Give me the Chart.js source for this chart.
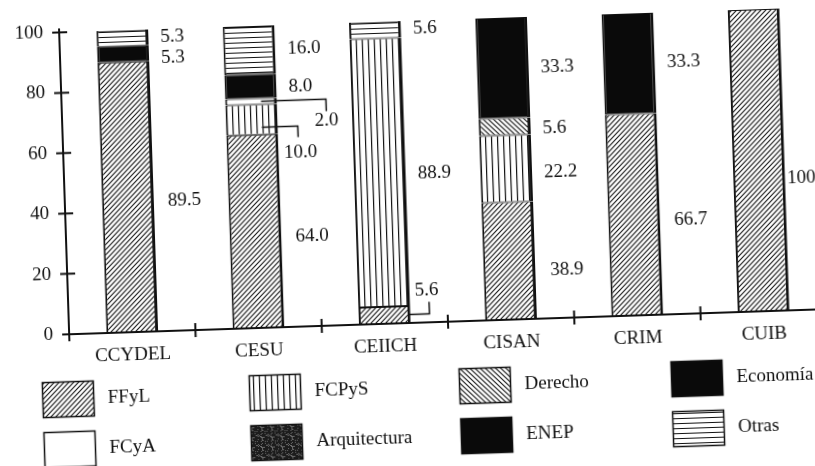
<!DOCTYPE html>
<html>
<head>
<meta charset="utf-8">
<script src="https://cdn.jsdelivr.net/npm/chart.js@4.4.0/dist/chart.umd.min.js"></script>
<style>
  html, body { margin: 0; padding: 0; background: #fff; overflow: hidden; }
  /* the scanned original is slightly tilted */
  #wrap { position: absolute; left: 0; top: 0; width: 840px; height: 466px;
          transform: rotate(-1.9deg); transform-origin: 407.5px 233px; }
</style>
</head>
<body>
<div id="wrap"><canvas id="chart" width="840" height="466"></canvas></div>
<script>
// Data (percent per centre)
const categories = ['CCYDEL', 'CESU', 'CEIICH', 'CISAN', 'CRIM', 'CUIB'];
const ffyl         = [89.5, 64.0, 5.6, 38.9, 66.7, 100];
const fcpys        = [null, 10.0, 88.9, 22.2, null, null];
const fcya         = [null, 2.0, null, null, null, null];
const derecho      = [null, null, null, 5.6, null, null];
const arquitectura = [null, null, null, null, null, null];
const enep         = [5.3, 8.0, null, null, null, null];
const economia     = [null, null, null, 33.3, 33.3, null];
const otras        = [5.3, 16.0, 5.6, null, null, null];
const yTicks = [0, 20, 40, 60, 80, 100];

const INK = '#111';
const FONT_FAMILY = "'Liberation Serif', 'Times New Roman', serif";
const FONT = '19px ' + FONT_FAMILY;

// Hatch patterns
function makePattern(w, h, draw) {
    const c = document.createElement('canvas');
    c.width = w; c.height = h;
    const g = c.getContext('2d');
    g.fillStyle = '#fff';
    g.fillRect(0, 0, w, h);
    g.strokeStyle = INK;
    g.fillStyle = INK;
    draw(g, w, h);
    return c.getContext('2d').createPattern(c, 'repeat');
}

const fills = {
    'FFyL': makePattern(5, 5, (g) => {
        g.lineWidth = 1.1;
        g.beginPath();
        g.moveTo(-1, 6); g.lineTo(6, -1);
        g.moveTo(-1, 1); g.lineTo(1, -1);
        g.moveTo(4, 6); g.lineTo(6, 4);
        g.stroke();
    }),
    'FCPyS': makePattern(6, 1, (g) => { g.fillRect(2, 0, 1.2, 1); }),
    'FCyA': '#ffffff',
    'Derecho': makePattern(5, 5, (g) => {
        g.lineWidth = 1.1;
        g.beginPath();
        g.moveTo(-1, -1); g.lineTo(6, 6);
        g.moveTo(4, -1); g.lineTo(6, 1);
        g.moveTo(-1, 4); g.lineTo(1, 6);
        g.stroke();
    }),
    'Arquitectura': makePattern(10, 10, (g) => {
        g.fillStyle = '#1c1c1c';
        g.fillRect(0, 0, 10, 10);
        g.fillStyle = '#6a6a6a';
        let s = 7;
        for (let k = 0; k < 22; k++) {
            s = (s * 37 + 11) % 101;
            g.fillRect(s % 10, Math.floor(s / 10) % 10, 1, 1);
        }
    }),
    'ENEP': '#0a0a0a',
    'Economía': '#0a0a0a',
    'Otras': makePattern(1, 5, (g) => { g.fillRect(0, 2, 1, 1); })
};

const seriesNames = ['FFyL', 'FCPyS', 'FCyA', 'Derecho', 'Arquitectura', 'ENEP', 'Economía', 'Otras'];
const seriesValues = [ffyl, fcpys, fcya, derecho, arquitectura, enep, economia, otras];

const legendRows = [
    ['FFyL', 'FCPyS', 'Derecho', 'Economía'],
    ['FCyA', 'Arquitectura', 'ENEP', 'Otras']
];

// small label shifts (px) where the original sets them off the segment centre
const nudges = {
    'CCYDEL|ENEP': [0, 5],
    'CCYDEL|FFyL': [2, 5],
    'CESU|ENEP': [0, 2],
    'CESU|FFyL': [2, 7],
    'CEIICH|FCPyS': [0, 2],
    'CISAN|Economía': [0, 1],
    'CISAN|Derecho': [0, 3],
    'CISAN|FCPyS': [0, 5],
    'CISAN|FFyL': [3, 11],
    'CRIM|FFyL': [2, 7],
    'CUIB|FFyL': [-10, 19]
};

// labels joined to thin segments by an elbow line
const leaders = {
    'CESU|FCyA':   { sx: 10,  ly: 0,  ex: 49, ey: 12,  tx: 49, ty: 22 },
    'CESU|FCPyS':  { sx: 10,  ly: 8,  ex: 20, ey: 19,  tx: 22, ty: 34 },
    'CEIICH|FFyL': { sx: null, ly: 0, ex: 19, ey: -12, tx: 17, ty: -24 }
};

const valueLabels = {
    id: 'valueLabels',
    afterDatasetsDraw(chart) {
        const ctx = chart.ctx;
        ctx.save();
        ctx.font = FONT;
        ctx.fillStyle = INK;
        ctx.strokeStyle = INK;
        ctx.lineWidth = 1.5;
        ctx.textBaseline = 'middle';
        chart.data.datasets.forEach((ds, i) => {
            const meta = chart.getDatasetMeta(i);
            ds.data.forEach((v, j) => {
                if (v == null) return;
                const el = meta.data[j];
                const right = el.x + el.width / 2;
                const yc = (el.y + el.base) / 2;
                const key = categories[j] + '|' + ds.label;
                const txt = v === 100 ? '100' : v.toFixed(1);
                const lead = leaders[key];
                if (lead) {
                    const sx = lead.sx === null ? right - 2 : el.x + lead.sx;
                    ctx.beginPath();
                    ctx.moveTo(sx, yc + lead.ly);
                    ctx.lineTo(right + lead.ex, yc + lead.ly);
                    ctx.lineTo(right + lead.ex, yc + lead.ey);
                    ctx.stroke();
                    ctx.textAlign = 'center';
                    ctx.fillText(txt, right + lead.tx, yc + lead.ty);
                } else {
                    const n = nudges[key] || [0, 0];
                    ctx.textAlign = 'left';
                    ctx.fillText(txt, right + 12 + n[0], yc + n[1]);
                }
            });
        });
        ctx.restore();
    }
};

// axes drawn by hand: crossing tick marks as in the original
const axesPlugin = {
    id: 'axesPlugin',
    afterDraw(chart) {
        const { ctx, chartArea: a, scales: { x, y } } = chart;
        ctx.save();
        ctx.strokeStyle = INK;
        ctx.lineWidth = 2;
        ctx.beginPath();
        ctx.moveTo(a.left, y.getPixelForValue(100) - 4);
        ctx.lineTo(a.left, a.bottom + 7);
        ctx.moveTo(a.left - 6, a.bottom);
        ctx.lineTo(chart.width, a.bottom);
        yTicks.forEach(t => {
            const py = y.getPixelForValue(t);
            ctx.moveTo(a.left - 7, py);
            ctx.lineTo(a.left + 8, py);
        });
        for (let i = 0; i < categories.length - 1; i++) {
            const px = (x.getPixelForValue(i) + x.getPixelForValue(i + 1)) / 2;
            ctx.moveTo(px, a.bottom - 7);
            ctx.lineTo(px, a.bottom + 7);
        }
        ctx.stroke();
        ctx.restore();
    }
};

const legendPlugin = {
    id: 'patternLegend',
    afterDraw(chart) {
        const ctx = chart.ctx;
        const colX = [63, 270, 480, 692];
        const rowY = [388, 438];
        const sw = 51, sh = 35;
        ctx.save();
        ctx.font = FONT;
        ctx.textAlign = 'left';
        ctx.textBaseline = 'middle';
        legendRows.forEach((row, r) => {
            row.forEach((name, c) => {
                const cx = colX[c], cy = rowY[r];
                ctx.fillStyle = fills[name];
                ctx.fillRect(cx - sw / 2, cy - sh / 2, sw, sh);
                ctx.strokeStyle = INK;
                ctx.lineWidth = 1.5;
                ctx.strokeRect(cx - sw / 2, cy - sh / 2, sw, sh);
                ctx.fillStyle = INK;
                ctx.fillText(name, cx + sw / 2 + 14, cy);
            });
        });
        ctx.restore();
    }
};

new Chart(document.getElementById('chart'), {
    type: 'bar',
    data: {
        labels: categories,
        datasets: seriesNames.map((name, i) => ({
            label: name,
            data: seriesValues[i],
            backgroundColor: fills[name],
            borderColor: INK,
            borderWidth: { top: 1, bottom: 1, left: 2, right: 3 },
            borderSkipped: false,
            barPercentage: 0.41,
            categoryPercentage: 1.0
        }))
    },
    options: {
        responsive: false,
        animation: false,
        layout: { padding: { top: 21, right: 16, bottom: 0, left: 0 } },
        plugins: {
            legend: { display: false },
            tooltip: { enabled: false }
        },
        scales: {
            x: {
                stacked: true,
                grid: { display: false, drawTicks: false },
                border: { display: false },
                ticks: {
                    color: INK,
                    font: { family: FONT_FAMILY, size: 19 },
                    padding: 12,
                    maxRotation: 0,
                    autoSkip: false
                },
                afterFit: (s) => { s.height = 143; s.paddingLeft = 0; s.paddingRight = 0; }
            },
            y: {
                stacked: true,
                min: 0,
                max: 100,
                grid: { display: false, drawTicks: false },
                border: { display: false },
                ticks: {
                    stepSize: 20,
                    color: INK,
                    font: { family: FONT_FAMILY, size: 19 },
                    padding: 16
                },
                afterFit: (s) => { s.width = 66; s.paddingTop = 0; s.paddingBottom = 0; }
            }
        }
    },
    plugins: [axesPlugin, valueLabels, legendPlugin]
});
</script>
</body>
</html>
